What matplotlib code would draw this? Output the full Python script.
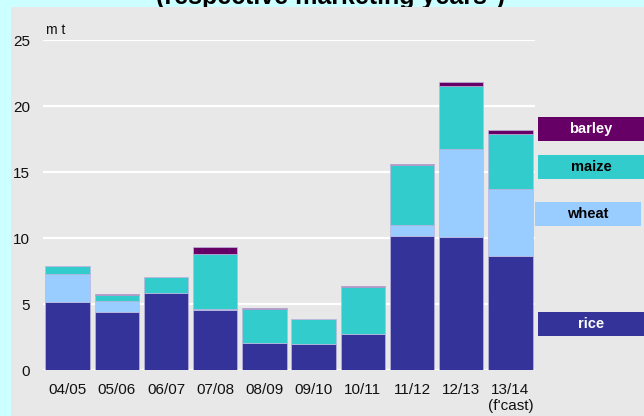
import numpy as np
import matplotlib
matplotlib.use('Agg')
import matplotlib.pyplot as plt
from matplotlib.patches import Rectangle

plt.rcParams['font.family'] = ['Liberation Sans', 'DejaVu Sans']

# marketing years
years = ['04/05', '05/06', '06/07', '07/08', '08/09', '09/10', '10/11', '11/12', '12/13', "13/14\n(f'cast)"]

# million tonnes, stacked bottom -> top
rice = [5.17, 4.42, 5.81, 4.55, 2.07, 1.95, 2.75, 10.17, 10.10, 8.66]
wheat = [2.10, 0.81, 0.03, 0.05, 0.0, 0.0, 0.0, 0.81, 6.64, 5.05]
maize = [0.61, 0.47, 1.18, 4.16, 2.55, 1.91, 3.56, 4.55, 4.80, 4.19]
barley = [0.03, 0.05, 0.02, 0.54, 0.05, 0.02, 0.05, 0.07, 0.30, 0.28]

series = [('rice', rice, '#333399', 'white'),
          ('wheat', wheat, '#99CCFF', 'black'),
          ('maize', maize, '#33CCCC', 'black'),
          ('barley', barley, '#660066', 'white')]

# legend label boxes (pixel left, top, right, bottom)
label_boxes = {'barley': (538, 117, 644, 141),
               'maize': (538, 155, 644, 179),
               'wheat': (535, 202, 641, 226),
               'rice': (538, 312, 644, 336)}

W, H = 644, 416
fig = plt.figure(figsize=(W / 100, H / 100), dpi=100)
fig.patch.set_facecolor('#CCFFFF')

# title sits mostly hidden behind the grey panel
fig.text(330 / W, 1 - 4 / H, '(respective marketing years*)', ha='center', va='baseline',
         fontsize=18, fontweight='bold', color='black', zorder=-2)
fig.patches.append(Rectangle((11 / W, 0), 1 - 11 / W, 1 - 7 / H, transform=fig.transFigure,
                             facecolor='#E8E8E8', edgecolor='none', zorder=-1))

ax = fig.add_axes([43 / W, (H - 370) / H, (535 - 43) / W, 330 / H])
ax.set_facecolor('none')

x = np.arange(len(years))
bottom = np.zeros(len(years))
for name, vals, col, tcol in series:
    ax.bar(x, vals, 0.9, bottom=bottom, color=col, edgecolor='#BDB6DE', linewidth=0.5, zorder=3)
    bottom += np.array(vals)

ax.set_xlim(-0.5, 9.5)
ax.set_ylim(0, 25)
ax.set_yticks([0, 5, 10, 15, 20, 25])
ax.yaxis.grid(True, color='white', linewidth=1.6, zorder=0)
ax.set_axisbelow(True)
ax.set_xticks(x)
ax.set_xticklabels(years)
ax.tick_params(axis='both', length=0, labelsize=11, colors='#111111')
ax.tick_params(axis='y', pad=9.5)
ax.tick_params(axis='x', pad=9)
for s in ax.spines.values():
    s.set_visible(False)

ax.annotate('m t', xy=(0, 1), xycoords='axes fraction', xytext=(2, 2),
            textcoords='offset points', ha='left', va='bottom', fontsize=10, color='#111111')

for name, vals, col, tcol in series:
    l, t, r, b = label_boxes[name]
    fig.patches.append(Rectangle((l / W, 1 - b / H), (r - l) / W, (b - t) / H,
                                 transform=fig.transFigure, facecolor=col, edgecolor='none', zorder=2))
    fig.text((l + r) / 2 / W, 1 - (t + b) / 2 / H, name, ha='center', va='center',
             fontsize=10.5, fontweight='bold', color=tcol, zorder=3)

fig.savefig('out.png', dpi=100, facecolor=fig.get_facecolor())
